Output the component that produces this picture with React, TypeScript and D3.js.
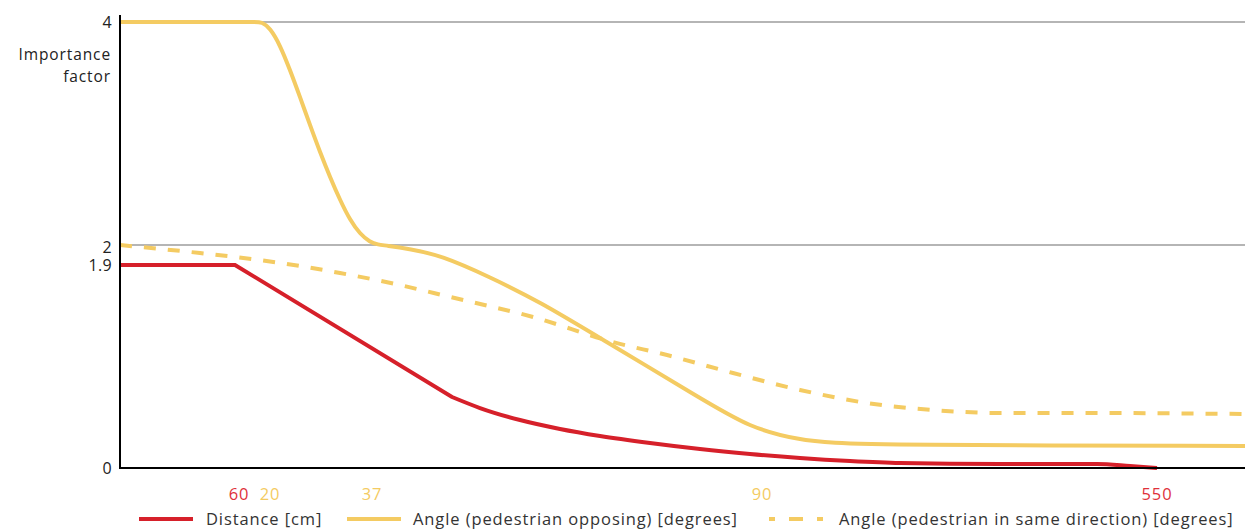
import React from "react";
import * as d3 from "d3";

// position along the (unitless) horizontal axis, 0..1125
const distanceX = [0, 115, 332, 360, 400, 440, 480, 530, 580, 630, 680, 730, 780, 880, 977, 1010, 1037];
const distanceY = [1.821, 1.821, 0.637, 0.538, 0.43, 0.35, 0.287, 0.224, 0.17, 0.126, 0.09, 0.063, 0.045, 0.036, 0.036, 0.018, 0];

const opposingX = [0, 120, 135, 142, 150, 160, 170, 180, 190, 200, 210, 220, 230, 240, 250, 258, 266, 290, 320, 370, 420, 480, 580, 630, 680, 713, 760, 1125];
const opposingY = [4, 4, 4, 4, 3.946, 3.794, 3.57, 3.327, 3.076, 2.834, 2.61, 2.404, 2.224, 2.099, 2.025, 2.003, 1.996, 1.964, 1.91, 1.713, 1.489, 1.166, 0.628, 0.359, 0.251, 0.224, 0.206, 0.197];

const sameDirX = [0, 80, 140, 180, 220, 280, 330, 413, 493, 547, 613, 680, 747, 813, 880, 980, 1125];
const sameDirY = [2.0, 1.928, 1.865, 1.812, 1.749, 1.641, 1.534, 1.354, 1.13, 1.013, 0.852, 0.7, 0.583, 0.52, 0.493, 0.493, 0.484];

const yTickValues = [0, 1.821, 2, 4];
const yTickLabels = ["0", "1.9", "2", "4"];
const gridValues = [2, 4];

const xTickPositions = [119, 150, 252, 642, 1037];
const xTickLabels = ["60", "20", "37", "90", "550"];
const xTickSeries = ["distance", "angle", "angle", "angle", "distance"];

const legendLabels = [
  "Distance [cm]",
  "Angle (pedestrian opposing) [degrees]",
  "Angle (pedestrian in same direction) [degrees]",
];

const RED = "#d6202a";
const YELLOW = "#f4cb62";
const FONT = "'Open Sans', sans-serif";

export default function App() {
  const W = 1247;
  const H = 529;
  const left = 120;
  const right = 1245;
  const top = 22;
  const bottom = 468;

  const x = d3.scaleLinear().domain([0, 1125]).range([left, right]);
  const y = d3.scaleLinear().domain([0, 4]).range([bottom, top]);

  const lineLinear = d3
    .line<[number, number]>()
    .x((d) => x(d[0]))
    .y((d) => y(d[1]));
  const lineSmooth = d3
    .line<[number, number]>()
    .x((d) => x(d[0]))
    .y((d) => y(d[1]))
    .curve(d3.curveMonotoneX);
  const lineBasis = d3
    .line<[number, number]>()
    .x((d) => x(d[0]))
    .y((d) => y(d[1]))
    .curve(d3.curveBasis);

  const redPts: [number, number][] = distanceX.map((v, i) => [v, distanceY[i]]);
  const redPath =
    (lineLinear(redPts.slice(0, 3)) || "") + (lineSmooth(redPts.slice(2)) || "").replace(/^M/, "L");
  const oppPts: [number, number][] = opposingX.map((v, i) => [v, opposingY[i]]);
  const samePts: [number, number][] = sameDirX.map((v, i) => [v, sameDirY[i]]);

  const legendY = 519;
  const textStyle = { letterSpacing: "0.9px" };

  return (
    <svg
      width={W}
      height={H}
      style={{ position: "absolute", left: 0, top: 0, background: "#fff" }}
      fontFamily={FONT}
    >
      {gridValues.map((g) => (
        <line key={g} x1={left} x2={right} y1={y(g)} y2={y(g)} stroke="#b5b5b5" strokeWidth={2} />
      ))}
      <path d={lineSmooth(samePts) || ""} fill="none" stroke={YELLOW} strokeWidth={4} strokeDasharray="12,12" />
      <path d={lineBasis(oppPts) || ""} fill="none" stroke={YELLOW} strokeWidth={4} />
      <path d={redPath} fill="none" stroke={RED} strokeWidth={4} strokeLinejoin="miter" />

      <line x1={left} x2={left} y1={15} y2={bottom + 1} stroke="#000" strokeWidth={2} />
      <line x1={left} x2={right} y1={bottom} y2={bottom} stroke="#000" strokeWidth={2} />

      {yTickValues.map((v, i) => (
        <text
          key={i}
          x={112}
          y={y(v) + (yTickLabels[i] === "2" ? 2 : 0)}
          dy="0.35em"
          textAnchor="end"
          fontSize={16}
          fill="#222"
          style={{ letterSpacing: "0.3px" }}
        >
          {yTickLabels[i]}
        </text>
      ))}
      <text x={111} y={60} textAnchor="end" fontSize={15.5} fill="#222" style={textStyle}>
        Importance
      </text>
      <text x={111} y={82} textAnchor="end" fontSize={15.5} fill="#222" style={textStyle}>
        factor
      </text>

      {xTickPositions.map((p, i) => (
        <text
          key={i}
          x={x(p)}
          y={500}
          textAnchor="middle"
          fontSize={16.5}
          fill={xTickSeries[i] === "distance" ? "#e0313a" : YELLOW}
          style={textStyle}
        >
          {xTickLabels[i]}
        </text>
      ))}

      <line x1={139} x2={193} y1={legendY} y2={legendY} stroke={RED} strokeWidth={4} />
      <text x={206} y={legendY} dy="0.35em" fontSize={16.5} fill="#333" style={textStyle}>
        {legendLabels[0]}
      </text>
      <line x1={347} x2={401} y1={legendY} y2={legendY} stroke={YELLOW} strokeWidth={4} />
      <text x={413} y={legendY} dy="0.35em" fontSize={16.5} fill="#333" style={textStyle}>
        {legendLabels[1]}
      </text>
      <line
        x1={769}
        x2={823}
        y1={legendY}
        y2={legendY}
        stroke={YELLOW}
        strokeWidth={4}
        strokeDasharray="14,14"
        strokeDashoffset={8}
      />
      <text x={839} y={legendY} dy="0.35em" fontSize={16.5} fill="#333" style={textStyle}>
        {legendLabels[2]}
      </text>
    </svg>
  );
}
